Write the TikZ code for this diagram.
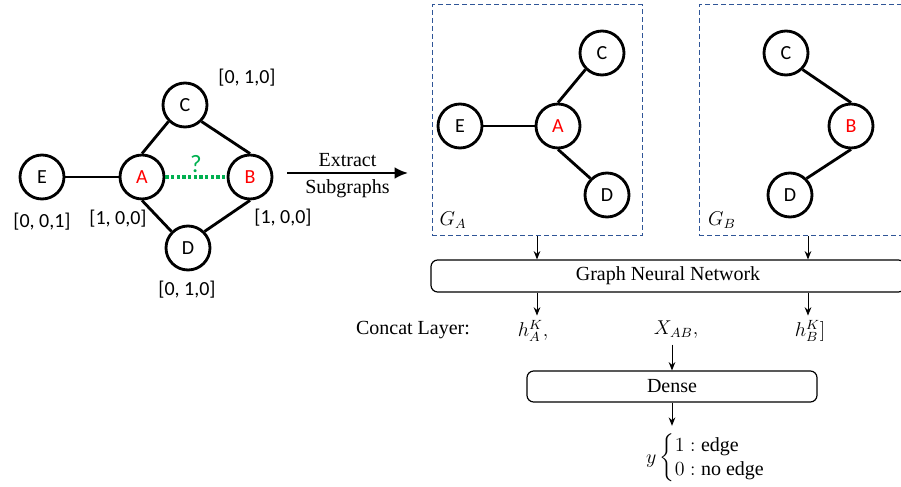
\documentclass[tikz,border=0pt]{standalone}
\usepackage{amsmath}
\usepackage{fontspec}
\setmainfont{Liberation Serif}
\newfontfamily\calfont{Carlito}
\usepackage{tikz}
\usetikzlibrary{arrows.meta}
\usetikzlibrary{calc}
\definecolor{boxblue}{HTML}{2F5597}
\definecolor{qgreen}{HTML}{00B050}
\definecolor{tred}{HTML}{FF0000}

\begin{document}
\begin{tikzpicture}[x=0.6pt,y=-0.6pt,
  vtx/.style={circle, draw, line width=1.7pt, minimum size=26.4pt, inner sep=0pt, font=\calfont\fontsize{12}{14}\selectfont},
  hot/.style={vtx, text=tred},
  feat/.style={font=\calfont\fontsize{12}{14}\selectfont},
  lnk/.style={line width=1.7pt},
  sub/.style={draw=boxblue, line width=0.6pt, dash pattern=on 3pt off 1.8pt, minimum width=126pt, minimum height=138.6pt, inner sep=0pt},
  layer/.style={draw, rounded corners=4pt, line width=0.7pt, inner sep=0pt, font=\fontsize{12}{14}\selectfont},
  arr/.style={-{Stealth[length=5pt,width=4pt]}, line width=0.6pt},
  lbl/.style={font=\fontsize{12}{14}\selectfont}]

\useasboundingbox (0,0) rectangle (901,487);

% input graph
\path
(42,177) node[vtx] (e) {E}
(142,177) node[hot] (a) {A}
(250,177) node[hot] (b) {B}
(185,105) node[vtx] (c) {C}
(188,248) node[vtx] (d) {D};

\draw[lnk] (e.east) -- (a.west);
\draw[lnk] (a.north) -- (c.-135);
\draw[lnk] (c.-45) -- (b.north);
\draw[lnk] (a.south) -- (d.135);
\draw[lnk] (d.45) -- (b.south);
\draw[qgreen, line width=1.9pt, dash pattern=on 1.9pt off 1.5pt] (a.east) -- (b.west)
  node[midway, above=-1.5pt, text=qgreen, font=\calfont\fontsize{15}{17}\selectfont] (q) {?};

\path
(247,78) node[feat] (fc) {[0, 1,0]}
(42,222) node[feat] (fe) {[0, 0,1]}
(118,219) node[feat] (fa) {[1, 0,0]}
(283,218) node[feat] (fb) {[1, 0,0]}
(187,290) node[feat] (fd) {[0, 1,0]};

% extract arrow
\coordinate (xs) at (287,173);
\coordinate (xe) at (408,173);
\draw[line width=1.3pt, -{Latex[length=8pt,width=7pt]}] (xs) -- (xe)
  node[midway, above=0pt, lbl] (ext) {Extract}
  node[midway, below=0pt, lbl] (sgr) {Subgraphs};

% subgraphs
\path
(537,120.5) node[sub] (GA) {}
(808,120.5) node[sub, minimum width=130.8pt] (GB) {}
(453,220) node[lbl] (la) {$G_A$}
(722,220) node[lbl] (lb) {$G_B$};

\path
(460,126) node[vtx] (ea) {E}
(558,126) node[hot] (aa) {A}
(602,53) node[vtx] (ca) {C}
(607,195) node[vtx] (da) {D};
\draw[lnk] (ea.east) -- (aa.west);
\draw[lnk] (aa.north) -- (ca.-135);
\draw[lnk] (aa.south) -- (da.135);

\path
(786,53) node[vtx] (cb) {C}
(851,126) node[hot] (bb) {B}
(790,195) node[vtx] (db) {D};
\draw[lnk] (cb.-45) -- (bb.north);
\draw[lnk] (bb.south) -- (db.45);

% gnn and dense
\path
(668,276) node[layer, minimum width=284.4pt, minimum height=19.2pt] (GNN) {Graph Neural Network}
(413,330) node[lbl] (cat) {Concat Layer:}
(533,331) node[lbl] (hA) {$h_A^K,$}
(676,330) node[lbl] (xab) {$X_{AB},$}
(810,331) node[lbl] (hB) {$h_B^K]$}
(672,386.5) node[layer, minimum width=174pt, minimum height=18.6pt] (dense) {Dense}
(716,458) node[lbl] (out) {$y\begin{cases}1: \text{edge}\\[-2pt] 0: \text{no edge}\end{cases}$};

\draw[arr] (GA.south) -- (GA.south |- GNN.north);
\draw[arr] (GB.south) -- (GB.south |- GNN.north);
\draw[arr] (GA.south |- GNN.south) -- ++(0,23);
\draw[arr] (GB.south |- GNN.south) -- ++(0,23);
\draw[arr] (xab.south -| dense.north) -- (dense.north);
\draw[arr] (dense.south) -- (dense.south |- out.north);

\end{tikzpicture}
\end{document}
